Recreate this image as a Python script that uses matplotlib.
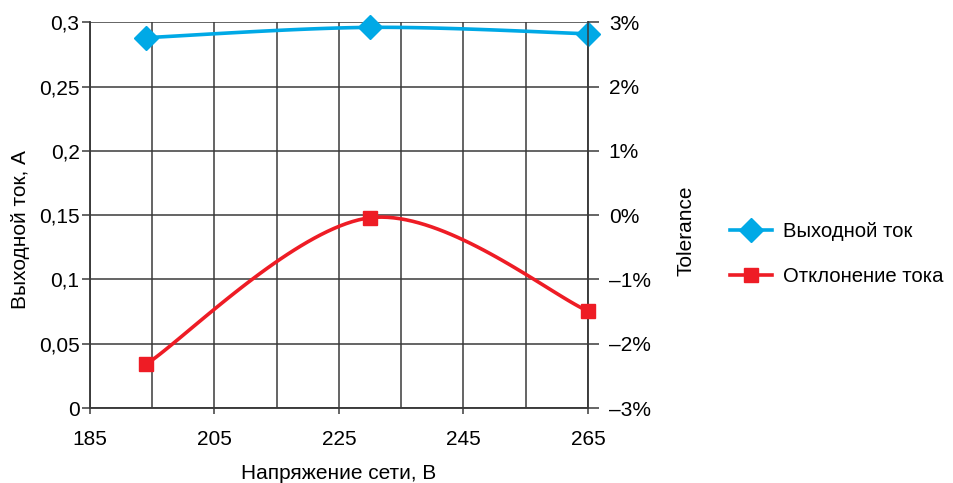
import matplotlib.pyplot as plt
import numpy as np

plt.rcParams['font.family'] = ['Liberation Sans', 'DejaVu Sans']

voltage = [194, 230, 265]
current = [0.288, 0.296, 0.291]
deviation = [-2.32, -0.04, -1.49]

x_labels = [185, 205, 225, 245, 265]
left_ticks = [0, 0.05, 0.1, 0.15, 0.2, 0.25, 0.3]
left_labels = ['0', '0,05', '0,1', '0,15', '0,2', '0,25', '0,3']
right_ticks = [-3, -2, -1, 0, 1, 2, 3]
right_labels = ['–3%', '–2%', '–1%', '0%', '1%', '2%', '3%']

blue = '#00a9e6'
red = '#ee1c25'
grid_c = '#3a3a3a'
fs = 15


def smooth(xs, ys, n=40):
    # Excel-like smoothed line (cubic bezier, catmull-rom style control points)
    p = np.column_stack([xs, ys]).astype(float)
    pts = [p[0]] + list(p) + [p[-1]]
    out = []
    t = np.linspace(0, 1, n)[:, None]
    for i in range(1, len(pts) - 2):
        p0, p1, p2, p3 = pts[i - 1], pts[i], pts[i + 1], pts[i + 2]
        b1 = p1 + (p2 - p0) / 6
        b2 = p2 - (p3 - p1) / 6
        seg = (1 - t) ** 3 * p1 + 3 * (1 - t) ** 2 * t * b1 + 3 * (1 - t) * t ** 2 * b2 + t ** 3 * p2
        out.append(seg)
    out = np.vstack(out)
    return out[:, 0], out[:, 1]


fig = plt.figure(figsize=(9.54, 4.83), dpi=100)
ax = fig.add_axes([0.0943, 0.155, 0.522, 0.799])
ax2 = ax.twinx()

ax.set_xlim(185, 265)
ax.set_ylim(0, 0.3)
ax2.set_ylim(-3, 3)

ax.set_xticks(np.arange(185, 266, 10), minor=True)
ax.set_xticks(x_labels)
ax.set_xticklabels([str(v) for v in x_labels])
ax.set_yticks(left_ticks)
ax.set_yticklabels(left_labels)
ax2.set_yticks(right_ticks)
ax2.set_yticklabels(right_labels)

ax.grid(True, which='both', axis='x', color=grid_c, lw=1.1)
ax.grid(True, which='major', axis='y', color=grid_c, lw=1.1)
ax.set_axisbelow(True)
ax.tick_params(axis='x', which='minor', length=0)
ax.tick_params(axis='x', which='major', length=4.5, width=1.1, color=grid_c, labelsize=fs, pad=11)
ax.tick_params(axis='y', length=6, width=1.1, color=grid_c, labelsize=fs, pad=1.5)
ax2.tick_params(axis='y', length=8, width=1.1, color=grid_c, labelsize=fs, pad=7)
for a in (ax, ax2):
    for s in a.spines.values():
        s.set_color(grid_c)
        s.set_linewidth(1.1)
ax.spines['top'].set_visible(False)
ax2.spines['top'].set_visible(False)

bx, by = smooth(voltage, current)
ax.plot(bx, by, color=blue, lw=2.6, solid_capstyle='round', zorder=3)
ax.plot(voltage, current, ls='none', marker='D', ms=12.5, color=blue, zorder=4, clip_on=False)

rx, ry = smooth(voltage, deviation)
ax2.plot(rx, ry, color=red, lw=2.6, solid_capstyle='round', zorder=3)
ax2.plot(voltage, deviation, ls='none', marker='s', ms=10.5, color=red, zorder=4, clip_on=False)

ax.set_xlabel('Напряжение сети, В', fontsize=fs, labelpad=11)
ax.set_ylabel('Выходной ток, А', fontsize=fs)
ax.yaxis.set_label_coords(-0.121, 0.464)
ax2.set_ylabel('Tolerance', fontsize=fs)
ax2.yaxis.set_label_coords(1.178, 0.46)

h1 = plt.Line2D([], [], color=blue, lw=2.6, marker='D', ms=12.5)
h2 = plt.Line2D([], [], color=red, lw=2.6, marker='s', ms=10.5)
fig.legend([h1, h2], ['Выходной ток', 'Отклонение тока'], loc='center left',
           bbox_to_anchor=(0.746, 0.474), frameon=False, fontsize=14.6,
           handlelength=2.07, labelspacing=1.3, handletextpad=0.53)

fig.savefig('out.png', dpi=100)
